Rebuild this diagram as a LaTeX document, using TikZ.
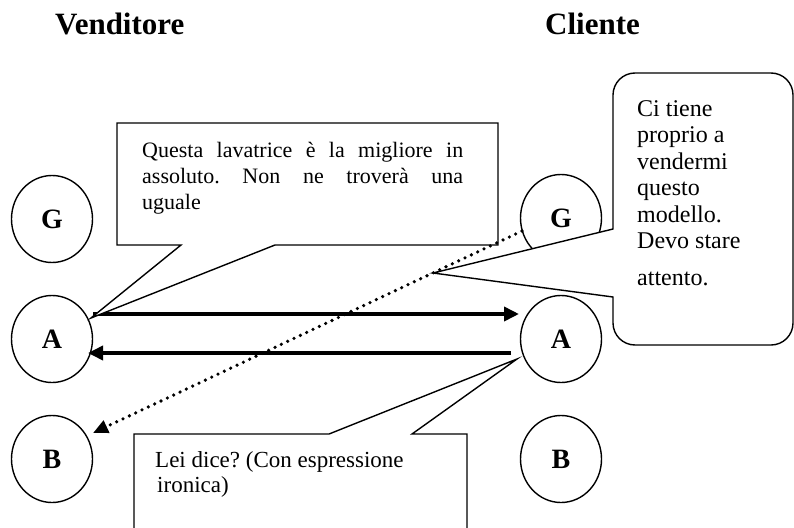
\documentclass[tikz,border=0pt]{standalone}
\usepackage{fontspec}
\setmainfont{Liberation Serif}
\usetikzlibrary{arrows.meta,shapes.geometric}
\frenchspacing

\begin{document}
\begin{tikzpicture}[x=1pt,y=-1pt,
  party/.style={ellipse,draw,line width=1.4pt,minimum width=81pt,minimum height=87pt,
    inner sep=0pt,font=\fontsize{28}{28}\selectfont\bfseries},
  heading/.style={anchor=base west,inner sep=0pt,font=\fontsize{31}{31}\selectfont\bfseries},
  bubble/.style={draw,line width=1.4pt,fill=white,line join=miter},
  speech/.style={inner sep=0pt,anchor=north west},
  msg/.style={line width=3.6pt,-{Triangle[length=15pt,width=14pt]}},
  thought/.style={line width=3.6pt,dash pattern=on 0pt off 7pt,line cap=round,
    -{Triangle[length=15pt,width=13pt]}}
]
\useasboundingbox (0,0) rectangle (794,527);

% column headings
\node[heading] (hv) at (55,35) {Venditore};
\node[heading] (hc) at (545,35) {Cliente};

% ego states of the two parties
\node[party] (gL) at (52,219) {G};
\node[party] (aL) at (52,339) {A};
\node[party] (bL) at (52,459) {B};
\node[party] (gR) at (561,218) {G};
\node[party] (aR) at (561,339) {A};
\node[party] (bR) at (561,459) {B};

% attachment points of the transactions
\coordinate (aLout) at (93,314);
\coordinate (aRin)  at (519,314);
\coordinate (aRout) at (511,353);
\coordinate (aLin)  at (88,353);
\coordinate (gRout) at (522,231);
\coordinate (bLin)  at (93,433);

% overt transactions between the adult states
\draw[msg] (aLout) -- (aRin);
\draw[msg] (aRout) -- (aLin);

% speech bubble of the seller
\draw[bubble] (117,123) -- (498,123) -- (498,245) -- (275,245) -- (91,318)
  -- (181,245) -- (117,245) -- cycle;
% speech bubble of the customer
\draw[bubble] (134,531) -- (134,434) -- (329,434) -- (517,359) -- (412,434)
  -- (467,434) -- (467,531);
% thought bubble of the customer
\draw[bubble] (613,229) -- (613,95) arc[start angle=180,end angle=270,radius=22]
  -- (771,73) arc[start angle=270,end angle=360,radius=22]
  -- (793,323) arc[start angle=0,end angle=90,radius=22]
  -- (635,345) arc[start angle=90,end angle=180,radius=22]
  -- (613,297) -- (433,273) -- cycle;

% bubble texts
\node[speech,text width=321pt,align=justify,font=\fontsize{22}{26}\selectfont] (tq) at (142,142)
  {Questa lavatrice è la migliore in\linebreak assoluto. Non ne troverà una\linebreak uguale};
\node[speech,align=left,font=\fontsize{23}{25}\selectfont] (tl) at (155,451)
  {Lei dice? (Con espressione\\\hspace{2pt}ironica)};
\node[speech,align=left,font=\fontsize{24}{26.5}\selectfont] (tc) at (637,100)
  {Ci tiene\\proprio a\\vendermi\\questo\\modello.\\Devo stare\\[10pt]attento.};

% hidden transaction from the customer's parent to the seller's child
\draw[thought] (gRout) -- (bLin);
\end{tikzpicture}
\end{document}
